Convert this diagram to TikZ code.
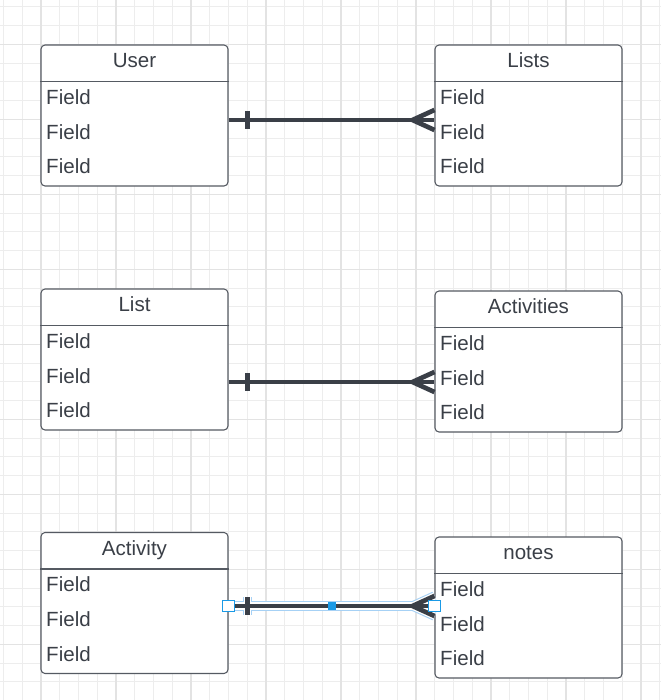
\documentclass[tikz,border=0pt]{standalone}
\usepackage{fontspec}
\setmainfont{Liberation Sans}
\usetikzlibrary{calc}
\definecolor{gridminor}{HTML}{EDEDED}
\definecolor{gridmajor}{HTML}{E3E3E3}
\definecolor{boxgray}{HTML}{555A62}
\definecolor{inkgray}{HTML}{3A3F47}
\definecolor{selblue}{HTML}{1A9AE6}
\definecolor{sellight}{HTML}{A6D1F5}
\tikzset{
  entity/.style={draw=boxgray, line width=0.8pt, fill=white, rounded corners=3pt,
    minimum width=140.25pt, minimum height=105.75pt, inner sep=0pt},
  title/.style={anchor=base, inner sep=0pt, text=inkgray, font=\fontsize{15.4}{18}\selectfont},
  field/.style={anchor=base west, inner sep=0pt, text=inkgray, font=\fontsize{15.4}{18}\selectfont},
  rel/.style={draw=inkgray, line width=3.5pt, line join=round},
  selout/.style={draw=sellight, line width=7pt, line join=round},
  selin/.style={draw=white, line width=5.4pt, line join=round},
  handle/.style={draw=selblue, fill=white, line width=0.9pt, minimum size=8.5pt, inner sep=0pt},
  midhandle/.style={fill=selblue, minimum size=6pt, inner sep=0pt}
}
\begin{document}
\begin{tikzpicture}[x=0.75pt, y=-0.75pt]
            \useasboundingbox (0,0) rectangle (661,700);
            \fill[white] (0,0) rectangle (661,700);
            % grid
            \foreach \k in {0,...,35}
                \draw[gridminor, line width=0.75pt] ({3.5+18.75*\k},0) -- ({3.5+18.75*\k},700);
            \foreach \k in {0,...,36}
                \draw[gridminor, line width=0.75pt] (0,{6.8+18.75*\k}) -- (661,{6.8+18.75*\k});
            \foreach \k in {2,6,...,34}
                \draw[gridmajor, line width=0.8pt] ({3.5+18.75*\k},0) -- ({3.5+18.75*\k},700);
            \foreach \k in {2,6,...,34}
                \draw[gridmajor, line width=0.8pt] (0,{6.8+18.75*\k}) -- (661,{6.8+18.75*\k});
            % tables
            \node[entity] (user) at (134.5,115.5) {};
            \node[entity] (lists) at (528.5,115.5) {};
            \node[entity] (list) at (134.5,359.5) {};
            \node[entity] (activities) at (528.5,361.5) {};
            \node[entity] (activity) at (134.5,603) {};
            \node[entity] (notes) at (528.5,607.5) {};
            \foreach \t/\name in {user/User, lists/Lists, list/List, activities/Activities, activity/Activity, notes/notes} {
                \draw[boxgray, line width=0.8pt] ($(\t.north west)+(0,37)$) -- ($(\t.north east)+(0,37)$);
                \node[title] (\t-title) at ($(\t.north)+(0,23.5)$) {\name};
                \foreach \r/\dy in {1/60, 2/94.7, 3/129.4}
                    \node[field] (\t-f\r) at ($(\t.north west)+(5.5,\dy)$) {Field};
            }
            % relations
            \foreach \a/\b/\y in {user/lists/120, list/activities/382} {
                \draw[rel] (\a.east |- 0,\y) -- (\b.west |- 0,\y);
                \draw[rel] ($(\a.east |- 0,\y)+(19,-9)$) -- ++(0,18);
                \draw[rel] ($(\b.west |- 0,\y)+(0,-10)$) -- ++(-22,10) -- ++(22,10);
            }
            % selected relation
            \foreach \s in {selout, selin, rel} {
                \draw[\s] (activity.east |- 0,606) -- (notes.west |- 0,606);
                \draw[\s] ($(activity.east |- 0,606)+(19,-9)$) -- ++(0,18);
                \draw[\s] ($(notes.west |- 0,606)+(0,-10)$) -- ++(-22,10) -- ++(22,10);
            }
            \node[handle] (hs) at (activity.east |- 0,606) {};
            \node[handle] (he) at (notes.west |- 0,606) {};
            \path (hs) -- (he) node[midhandle, midway] (hm) {};
        \end{tikzpicture}
\end{document}
